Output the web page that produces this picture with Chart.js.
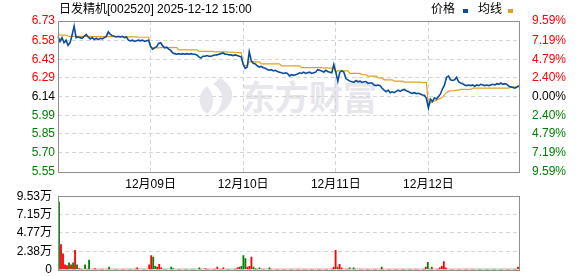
<!DOCTYPE html>
<html>
<head>
<meta charset="utf-8">
<script src="https://cdn.jsdelivr.net/npm/chart.js@4.4.1/dist/chart.umd.min.js"></script>
<style>
body{margin:0;background:#fff;font-family:"Liberation Sans","Noto Sans CJK SC",sans-serif;}
#wrap{position:relative;width:578px;height:276px;overflow:hidden;}
canvas{position:absolute;left:0;z-index:1;}
#priceChart{top:0;}
#volChart{top:189px;}
.txt{position:absolute;font-size:12px;line-height:14px;color:#000;white-space:nowrap;z-index:2;}
.sq{position:absolute;width:5px;height:4px;z-index:2;}
#mark{position:absolute;left:241px;top:78px;font-family:"Noto Sans CJK SC";font-weight:bold;font-size:34px;line-height:36px;color:#e6e6ec;z-index:0;white-space:nowrap;}
</style>
</head>
<body>
<div id="wrap">
  <div id="mark">东方财富</div>
  <div class="txt" style="left:59px;top:2px;">日发精机[002520] 2025-12-12 15:00</div>
  <div class="txt" style="left:431px;top:2px;">价格</div>
  <div class="sq" style="left:463px;top:9px;background:#0a4fa3;"></div>
  <div class="txt" style="left:478px;top:2px;">均线</div>
  <div class="sq" style="left:508px;top:9px;background:#e0a21c;"></div>
  <canvas id="priceChart" width="578" height="195"></canvas>
  <canvas id="volChart" width="578" height="88"></canvas>
</div>
<script>
const days = ["12月08日", "12月09日", "12月10日", "12月11日", "12月12日"];
const perDay = 46;
const priceTicks = [5.55, 5.70, 5.85, 5.99, 6.14, 6.29, 6.43, 6.58, 6.73];
const pctTicks = ["9.59%", "7.19%", "4.79%", "2.40%", "0.00%", "2.40%", "4.79%", "7.19%", "9.59%"];
const volTicks = [0, 2.38, 4.77, 7.15, 9.53];

// price, one row per day
const price = [
  6.61,6.57,6.60,6.56,6.58,6.54,6.56,6.62,6.69,6.60, 6.605,6.60,6.595,6.61,6.625,6.605,6.59,6.60,6.585,6.595, 6.585,6.595,6.59,6.60,6.61,6.645,6.625,6.615,6.61,6.605, 6.61,6.605,6.61,6.60,6.605,6.58,6.575,6.58,6.57,6.575, 6.58,6.575,6.58,6.57,6.575,6.58,
  6.53,6.51,6.52,6.53,6.555,6.56,6.535,6.52,6.525,6.51, 6.50,6.48,6.475,6.47,6.475,6.47,6.475,6.47,6.475,6.47, 6.475,6.47,6.47,6.465,6.45,6.44,6.455,6.455,6.46,6.455, 6.455,6.46,6.464,6.465,6.47,6.475,6.48,6.47,6.47,6.465, 6.465,6.46,6.465,6.46,6.455,6.45,
  6.39,6.36,6.37,6.49,6.42,6.40,6.395,6.38,6.37,6.375, 6.365,6.36,6.35,6.345,6.35,6.34,6.345,6.335,6.33,6.325, 6.32,6.325,6.32,6.30,6.31,6.305,6.31,6.315,6.325,6.32, 6.33,6.32,6.325,6.33,6.32,6.325,6.33,6.35,6.345,6.34, 6.33,6.345,6.335,6.33,6.325,6.39,
  6.33,6.26,6.33,6.34,6.33,6.28,6.27,6.26,6.255,6.25, 6.265,6.255,6.26,6.25,6.255,6.256,6.243,6.245,6.245,6.23, 6.225,6.23,6.225,6.204,6.19,6.177,6.19,6.17,6.177,6.17, 6.18,6.19,6.18,6.19,6.195,6.185,6.18,6.17,6.165,6.17, 6.163,6.165,6.16,6.152,6.15,6.125,
  6.05,6.12,6.10,6.13,6.12,6.14,6.16,6.20,6.23,6.29, 6.30,6.27,6.265,6.27,6.29,6.255,6.245,6.24,6.23,6.225, 6.23,6.225,6.23,6.22,6.23,6.225,6.235,6.23,6.225,6.23, 6.225,6.23,6.235,6.23,6.24,6.235,6.245,6.235,6.24,6.235, 6.22,6.215,6.21,6.205,6.215,6.225
];

const avgPrice = [
  6.625,6.62,6.62,6.62,6.62, 6.612,6.61,6.61,6.61,6.61, 6.61,6.61,6.61,6.61,6.61, 6.608,6.608,6.608,6.608,6.608, 6.608,6.608,6.608,6.608,6.608, 6.608,6.608,6.608,6.608,6.608, 6.606,6.606,6.606,6.606,6.606, 6.606,6.606,6.606,6.606,6.606, 6.603,6.603,6.603,6.603,6.603,6.603,
  6.53,6.52,6.52,6.52,6.52, 6.522,6.522,6.522,6.522,6.522, 6.522,6.522,6.522,6.522,6.505, 6.505,6.505,6.505,6.505,6.505, 6.505,6.505,6.505,6.505,6.493, 6.493,6.493,6.493,6.493,6.493, 6.493,6.493,6.488,6.488,6.488, 6.488,6.488,6.488,6.488,6.486, 6.486,6.486,6.484,6.484,6.483,6.483,
  6.39,6.38,6.385,6.41,6.41, 6.41,6.41,6.41,6.41,6.395, 6.395,6.395,6.395,6.395,6.395, 6.395,6.395,6.395,6.395,6.38, 6.38,6.38,6.38,6.38,6.38, 6.38,6.38,6.38,6.38,6.365, 6.365,6.365,6.365,6.365,6.365, 6.365,6.365,6.365,6.365,6.365, 6.363,6.363,6.363,6.362,6.362,6.362,
  6.33,6.34,6.345,6.345,6.34, 6.34,6.34,6.32,6.32,6.32, 6.32,6.32,6.32,6.31,6.31, 6.31,6.30,6.30,6.30,6.30, 6.30,6.285,6.285,6.285,6.27, 6.27,6.27,6.27,6.27,6.26, 6.26,6.26,6.26,6.26,6.253, 6.253,6.253,6.253,6.253,6.253, 6.253,6.253,6.253,6.248,6.248,6.248,
  6.07,6.09,6.10,6.105,6.11, 6.12,6.125,6.135,6.155,6.17, 6.18,6.185,6.185,6.185,6.19, 6.19,6.195,6.195,6.195,6.195, 6.195,6.195,6.205,6.205,6.205, 6.205,6.205,6.205,6.205,6.205, 6.205,6.205,6.205,6.205,6.205, 6.205,6.205,6.205,6.205,6.205, 6.205,6.215,6.215,6.215,6.215,6.215
];

// volume in 万手
const volume = [
  8.8,3.3,2.1,0.7,0.6,0.95,0.7,0.95,2.55,0.7, 0.2,0.15,0.13,0.7,0.13,1.3,0.13,0.13,0.2,0.13, 0.13,0.13,0.13,0.13,0.13,0.4,0.13,0.13,0.13,0.13, 0.13,0.13,0.13,0.13,0.13,0.13,0.13,0.13,0.13,0.3, 0.13,0.13,0.13,0.13,0.13,0.7,
  1.9,1.7,0.5,0.4,0.75,0.3,0.13,0.13,0.13,0.13, 0.4,0.2,0.13,0.13,0.13,0.13,0.13,0.13,0.13,0.13, 0.13,0.13,0.13,0.13,0.3,0.13,0.13,0.2,0.13,0.13, 0.13,0.13,0.13,0.4,0.13,0.13,0.3,0.13,0.13,0.13, 0.13,0.13,0.13,0.3,0.4,0.5,
  1.9,1.5,0.4,0.5,1.7,0.4,0.2,0.13,0.3,0.13, 0.13,0.13,0.13,0.3,0.13,0.13,0.13,0.13,0.13,0.13, 0.13,0.13,0.13,0.13,0.13,0.13,0.13,0.13,0.13,0.13, 0.13,0.13,0.13,0.13,0.13,0.13,0.13,0.13,0.13,0.13, 0.13,0.13,0.13,0.13,0.13,0.4,
  2.55,0.4,0.75,0.3,0.13,0.13,0.13,0.3,0.13,0.3, 0.13,0.13,0.13,0.13,0.13,0.13,0.13,0.13,0.13,0.13, 0.13,0.13,0.13,0.4,0.13,0.13,0.13,0.13,0.13,0.13, 0.13,0.13,0.13,0.13,0.13,0.13,0.13,0.13,0.13,0.13, 0.13,0.13,0.13,0.13,0.13,0.4,
  1.0,0.13,0.4,0.13,0.13,0.13,0.3,0.5,1.1,0.3, 0.13,0.13,0.13,0.13,0.13,0.13,0.13,0.13,0.13,0.13, 0.13,0.13,0.13,0.13,0.13,0.13,0.13,0.13,0.13,0.13, 0.13,0.13,0.13,0.13,0.13,0.13,0.13,0.13,0.13,0.13, 0.13,0.13,0.13,0.13,0.13,0.4
];

// r = up (red), g = down (green)
const volDir = [
  "grrrrgrgrg" + "rrggrgrrrr" + "rrrrrgrrgg" + "rrrrrggrrr" + "rrggrr",
  "rggrrrgggg" + "gggggrrggg" + "ggggggrrrr" + "rrrrrrrggg" + "gggrrg",
  "ggrrrggrgg" + "rrggrrrrrr" + "rrrrggrrrr" + "rrrrrrrrrr" + "rrrrrr",
  "rgrrrrrgrg" + "ggrrrrrrrr" + "rrrgrrrrrr" + "rrrrrrggrr" + "rrrrrr",
  "grgrrrrrrr" + "rrrrrrrrrr" + "rrrrgggggg" + "ggggggggrr" + "grgrgr"
].join("");

const RED = "#ff0000", GREEN = "#008000", GRID = "#d4d4d4";

const labels = [];
days.forEach(d => { for (let k = 0; k < perDay; k++) labels.push(d); });

Chart.defaults.font.family = '"Liberation Sans", "Noto Sans CJK SC", sans-serif';
Chart.defaults.font.size = 12;
Chart.defaults.color = "#000";

function tickColor(ctx) {
  return ctx.index > 4 ? RED : (ctx.index < 4 ? GREEN : "#000");
}

const frame = {
  id: "frame",
  afterDraw(chart) {
    const a = chart.chartArea, c = chart.ctx;
    const l = Math.round(a.left), t = Math.round(a.top);
    const r = Math.round(a.right), b = Math.round(a.bottom);
    c.save();
    c.strokeStyle = "#8e8e8e";
    c.lineWidth = 1;
    c.strokeRect(l + 0.5, t + 0.5, r - l, b - t);
    c.restore();
  }
};

const logo = {
  id: "logo",
  beforeDatasetsDraw(chart) {
    const c = chart.ctx;
    c.save();
    c.fillStyle = "#e6e6ec";
    c.beginPath();
    c.moveTo(220, 78);
    c.bezierCurveTo(240, 90, 234, 108, 214, 116);
    c.bezierCurveTo(224, 104, 226, 92, 213, 84);
    c.closePath();
    c.fill();
    c.beginPath();
    c.moveTo(207, 86);
    c.bezierCurveTo(216, 96, 214, 108, 207, 114);
    c.bezierCurveTo(197, 106, 197, 94, 207, 86);
    c.fill();
    c.restore();
  }
};

new Chart(document.getElementById("priceChart"), {
  type: "line",
  data: {
    labels: labels,
    datasets: [
      { data: price, borderColor: "#0a4c9e", borderWidth: 1.6, pointRadius: 0, tension: 0, yAxisID: "y" },
      { data: avgPrice, borderColor: "#e0a21c", borderWidth: 1.2, pointRadius: 0, tension: 0, yAxisID: "y" }
    ]
  },
  options: {
    responsive: false,
    animation: false,
    events: [],
    layout: { padding: { top: 21 } },
    plugins: { legend: { display: false }, tooltip: { enabled: false } },
    scales: {
      x: {
        grid: {
          drawTicks: false,
          color: ctx => (ctx.index > 0 && ctx.index % perDay === 0) ? GRID : "transparent"
        },
        border: { display: false, dash: [4, 3] },
        ticks: {
          autoSkip: false, maxRotation: 0, padding: 5,
          callback: (v, i) => (i > 0 && i % perDay === 0) ? labels[i] : ""
        },
        afterFit: s => { s.height = 23; }
      },
      y: {
        position: "left", min: 5.55, max: 6.73,
        afterBuildTicks: s => { s.ticks = priceTicks.map(v => ({ value: v })); },
        grid: { drawTicks: false, color: GRID },
        border: { display: false, dash: [4, 3] },
        ticks: { autoSkip: false, padding: 3, color: tickColor, callback: v => v.toFixed(2) },
        afterFit: s => { s.width = 58; }
      },
      y2: {
        position: "right", min: 5.55, max: 6.73,
        afterBuildTicks: s => { s.ticks = priceTicks.map(v => ({ value: v })); },
        grid: { display: false },
        border: { display: false },
        ticks: { autoSkip: false, padding: 5, color: tickColor, callback: (v, i) => pctTicks[i] },
        afterFit: s => { s.width = 59; }
      }
    }
  },
  plugins: [logo, frame]
});

new Chart(document.getElementById("volChart"), {
  type: "bar",
  data: {
    labels: labels,
    datasets: [{
      data: volume,
      backgroundColor: ctx => volDir[ctx.dataIndex] === "r" ? RED : GREEN,
      borderWidth: 0,
      barPercentage: 0.9,
      categoryPercentage: 1
    }]
  },
  options: {
    responsive: false,
    animation: false,
    events: [],
    layout: { padding: { top: 7, right: 59, bottom: 7 } },
    plugins: { legend: { display: false }, tooltip: { enabled: false } },
    scales: {
      x: { display: false },
      y: {
        min: 0, max: 9.53,
        afterBuildTicks: s => { s.ticks = volTicks.map(v => ({ value: v })); },
        grid: { drawTicks: true, tickLength: 6, tickColor: "transparent", color: GRID },
        border: { display: false, dash: [4, 3] },
        ticks: { autoSkip: false, padding: 0, callback: v => v === 0 ? "0" : v.toFixed(2) + "万" },
        afterFit: s => { s.width = 58; }
      }
    }
  },
  plugins: [frame]
});
</script>
</body>
</html>
